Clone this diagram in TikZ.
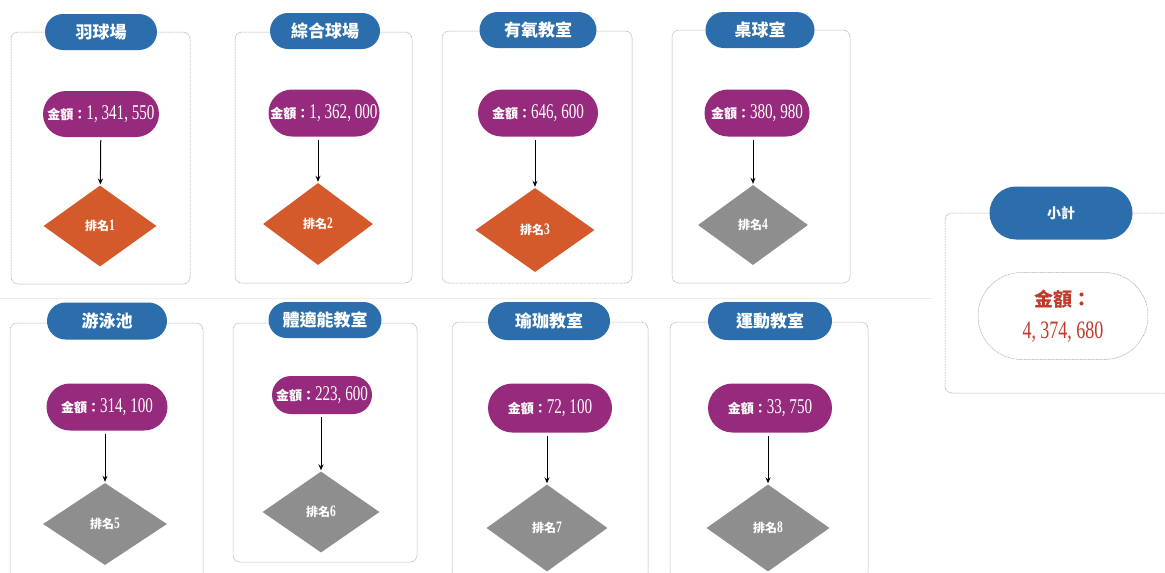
\documentclass[tikz,border=0pt]{standalone}
\usepackage{fontspec}
\setmainfont{Liberation Serif}
\newfontfamily\cjk{Noto Sans CJK TC}
\newfontfamily\numf[FakeStretch=0.72]{Liberation Serif}
\usetikzlibrary{shapes.geometric,shapes.misc,arrows.meta}
\definecolor{pillblue}{HTML}{2C6EAB}
\definecolor{amtpurple}{HTML}{962A7C}
\definecolor{rankorange}{HTML}{D55A2B}
\definecolor{rankgray}{HTML}{8E8E8E}
\definecolor{totred}{HTML}{C0392B}
\tikzset{
  panel/.style={draw=gray!70, line width=0.5pt, dash pattern=on 1pt off 0.6pt, rounded corners=7pt},
  titlepill/.style={rounded rectangle, fill=pillblue, text=white, inner sep=0pt,
     font=\cjk\bfseries\fontsize{17}{19}\selectfont},
  amtpill/.style={rounded rectangle, fill=amtpurple, text=white, inner sep=0pt},
  rankbox/.style={diamond, inner sep=0pt, text=white, font=\cjk\bfseries\fontsize{12}{14}\selectfont},
  orangerank/.style={rankbox, fill=rankorange},
  grayrank/.style={rankbox, fill=rankgray},
  flow/.style={-{Stealth[length=6pt,width=5pt]}, line width=1pt, black, shorten <=3pt, shorten >=1pt},
}
\newcommand\amttext[1]{{\cjk\bfseries\fontsize{13}{15}\selectfont 金額：}{\numf\fontsize{21}{23}\selectfont #1}}
\newcommand\ranktext[1]{排名{\numf\fontsize{16}{18}\selectfont #1}}
\begin{document}
\begin{tikzpicture}[x=1pt,y=-1pt]
\useasboundingbox (0,0) rectangle (1165,573);
\fill[white] (0,0) rectangle (1165,573);
% faint separator line between rows
\draw[gray!15, line width=0.8pt] (0,298) -- (933,298);

% ---------- panel 1
\draw[panel] (11,32) rectangle (190,284);
\node[titlepill, minimum width=112pt, minimum height=36pt] (t1) at (101,32) {羽球場};
\node[amtpill, minimum width=116pt, minimum height=46pt] (a1) at (101,114) {\amttext{1, 341, 550}};
\node[orangerank, minimum width=113pt, minimum height=81pt] (r1) at (100,226) {\ranktext{1}};
\draw[flow] (a1) -- (r1);

% ---------- panel 2
\draw[panel] (235,32) rectangle (412,283);
\node[titlepill, minimum width=110pt, minimum height=36pt] (t2) at (325,31) {綜合球場};
\node[amtpill, minimum width=111pt, minimum height=47pt] (a2) at (324,113) {\amttext{1, 362, 000}};
\node[orangerank, minimum width=110pt, minimum height=82pt] (r2) at (318,224) {\ranktext{2}};
\draw[flow] (a2.south -| r2.north) -- (r2.north);

% ---------- panel 3
\draw[panel] (442,31) rectangle (632,283);
\node[titlepill, minimum width=117pt, minimum height=36pt] (t3) at (538,30) {有氧教室};
\node[amtpill, minimum width=120pt, minimum height=47pt] (a3) at (538,113) {\amttext{646, 600}};
\node[orangerank, minimum width=119pt, minimum height=84pt] (r3) at (535,230) {\ranktext{3}};
\draw[flow] (a3.south -| r3.north) -- (r3.north);

% ---------- panel 4
\draw[panel] (672,30) rectangle (850,283);
\node[titlepill, minimum width=109pt, minimum height=36pt] (t4) at (760,30) {桌球室};
\node[amtpill, minimum width=105pt, minimum height=47pt] (a4) at (757,113) {\amttext{380, 980}};
\node[grayrank, minimum width=110pt, minimum height=80pt] (r4) at (753,225) {\ranktext{4}};
\draw[flow] (a4.south -| r4.north) -- (r4.north);

% ---------- panel 5
\draw[panel] (10,323) rectangle (203,580);
\node[titlepill, minimum width=120pt, minimum height=37pt] (t5) at (107,321) {游泳池};
\node[amtpill, minimum width=121pt, minimum height=47pt] (a5) at (107,407) {\amttext{314, 100}};
\node[grayrank, minimum width=124pt, minimum height=82pt] (r5) at (105,524) {\ranktext{5}};
\draw[flow] (a5.south -| r5.north) -- (r5.north);

% ---------- panel 6
\draw[panel] (233,323) rectangle (417,562);
\node[titlepill, minimum width=113pt, minimum height=36pt] (t6) at (325,320) {體適能教室};
\node[amtpill, minimum width=100pt, minimum height=38pt] (a6) at (322,395) {\amttext{223, 600}};
\node[grayrank, minimum width=117pt, minimum height=81pt] (r6) at (321,512) {\ranktext{6}};
\draw[flow] (a6.south -| r6.north) -- (r6.north);

% ---------- panel 7
\draw[panel] (452,322) rectangle (648,580);
\node[titlepill, minimum width=122pt, minimum height=38pt] (t7) at (549,321) {瑜珈教室};
\node[amtpill, minimum width=124pt, minimum height=49pt] (a7) at (550,408) {\amttext{72, 100}};
\node[grayrank, minimum width=121pt, minimum height=87pt] (r7) at (547,528) {\ranktext{7}};
\draw[flow] (a7.south -| r7.north) -- (r7.north);

% ---------- panel 8
\draw[panel] (670,322) rectangle (868,580);
\node[titlepill, minimum width=124pt, minimum height=38pt] (t8) at (770,321) {運動教室};
\node[amtpill, minimum width=124pt, minimum height=49pt] (a8) at (770,408) {\amttext{33, 750}};
\node[grayrank, minimum width=123pt, minimum height=87pt] (r8) at (768,528) {\ranktext{8}};
\draw[flow] (a8.south -| r8.north) -- (r8.north);

% ---------- subtotal
\draw[panel] (945,213) rectangle (1185,393);
\node[titlepill, minimum width=143pt, minimum height=53pt, font=\cjk\bfseries\fontsize{14}{16}\selectfont] (tt) at (1061,213) {小計};
\node[rounded rectangle, draw=gray!70, line width=0.5pt, dash pattern=on 1pt off 0.6pt, fill=white,
      minimum width=170pt, minimum height=87pt, inner sep=0pt, text=totred, align=center,
      font=\fontsize{25}{32}\selectfont] (tot) at (1063,316)
      {{\cjk\bfseries\fontsize{19}{22}\selectfont 金額：}\\{\numf\fontsize{25}{32}\selectfont 4, 374, 680}};
\end{tikzpicture}
\end{document}
